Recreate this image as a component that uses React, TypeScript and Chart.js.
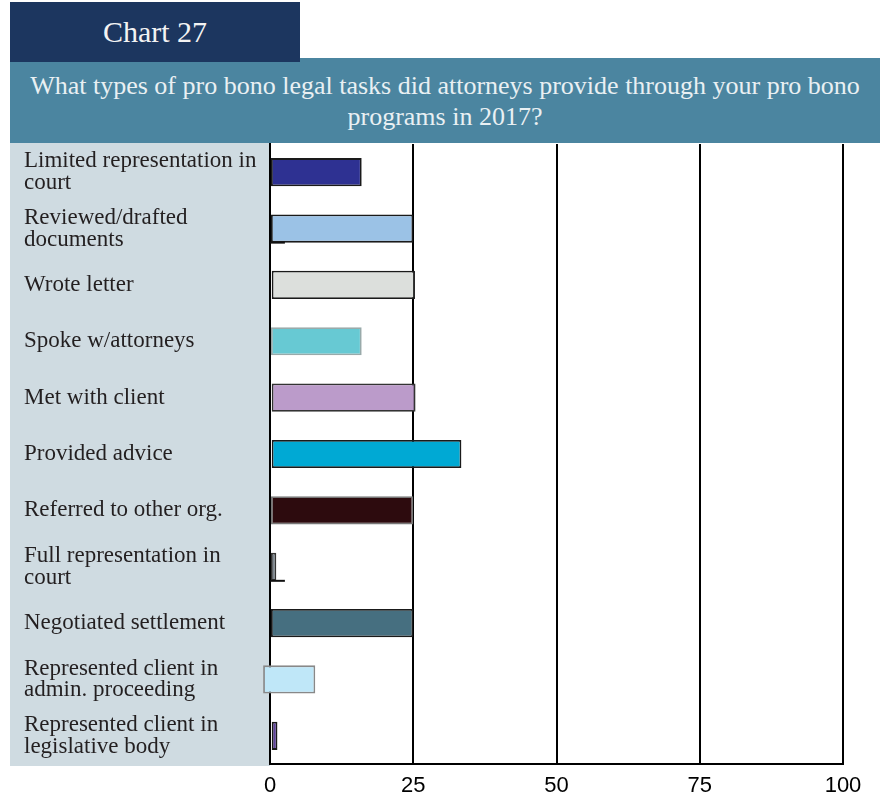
import React, { useEffect, useRef } from "react";
import { Chart, registerables } from "chart.js";

Chart.register(...registerables);

const categories: (string | string[])[] = [
  ["Limited representation in", "court"],
  ["Reviewed/drafted", "documents"],
  "Wrote letter",
  "Spoke w/attorneys",
  "Met with client",
  "Provided advice",
  "Referred to other org.",
  ["Full representation in", "court"],
  "Negotiated settlement",
  ["Represented client in", "admin. proceeding"],
  ["Represented client in", "legislative body"],
];

const values = [16, 25, 25.3, 16, 25.4, 33.4, 25, 1.1, 25, 7.9, 1.3];
const barStarts = [0, 0, 0.3, 0, 0.3, 0.3, 0, 0, 0, -1.2, 0.3];
const whiskerEnds: (number | null)[] = [null, 2.6, null, null, null, null, null, 2.6, null, null, null];
const xTickValues = [0, 25, 50, 75, 100];

const barColors = [
  "#2e3192",
  "#9bc2e6",
  "#dcdfdc",
  "#67c9d3",
  "#bb9bca",
  "#00a9d4",
  "#2d0b0e",
  "#7d8790",
  "#466f80",
  "#bfe7f8",
  "#5c3f9a",
];
const barBorders = [
  "#1a1a1a",
  "#1a1a1a",
  "#1a1a1a",
  "#9aa",
  "#333",
  "#1a1a1a",
  "#777",
  "#333",
  "#1a1a1a",
  "#888",
  "#1a1a1a",
];

const titleTag = "Chart 27";
const titleLines = [
  "What types of pro bono legal tasks did attorneys provide through your pro bono",
  "programs in 2017?",
];

export default function App() {
  const ref = useRef<HTMLCanvasElement>(null);

  useEffect(() => {
    if (!ref.current) return;

    const panelPlugin = {
      id: "panel",
      beforeDraw(chart: any) {
        const { ctx, chartArea } = chart;
        ctx.save();
        ctx.fillStyle = "#cfdbe1";
        ctx.fillRect(10, chartArea.top - 1, chartArea.left - 10, chartArea.bottom - chartArea.top + 3);
        ctx.restore();
      },
    };

    const whiskerPlugin = {
      id: "whiskers",
      afterDatasetsDraw(chart: any) {
        const { ctx } = chart;
        const meta = chart.getDatasetMeta(0);
        const xs = chart.scales.x;
        ctx.save();
        ctx.strokeStyle = "#111";
        ctx.lineWidth = 2;
        whiskerEnds.forEach((w, i) => {
          if (w == null) return;
          const el: any = meta.data[i];
          const y = el.y + el.height / 2;
          ctx.beginPath();
          ctx.moveTo(xs.getPixelForValue(0), y);
          ctx.lineTo(xs.getPixelForValue(w), y);
          ctx.stroke();
        });
        ctx.restore();
      },
    };

    const chart = new Chart(ref.current, {
      type: "bar",
      data: {
        labels: categories,
        datasets: [
          {
            data: values.map((v, i) => [barStarts[i], v]) as any,
            backgroundColor: barColors,
            borderColor: barBorders,
            borderWidth: 1.8,
            borderSkipped: false,
            barPercentage: 0.5,
            categoryPercentage: 1,
            clip: false as any,
          },
        ],
      },
      options: {
        indexAxis: "y",
        animation: false,
        responsive: false,
        maintainAspectRatio: false,
        layout: { padding: { left: 24, top: 4, right: 38, bottom: 0 } },
        plugins: {
          legend: { display: false },
          tooltip: { enabled: false },
          title: { display: false },
        },
        scales: {
          x: {
            type: "linear",
            position: "bottom",
            min: 0,
            max: 100,
            afterBuildTicks: (s: any) => {
              s.ticks = xTickValues.map((v) => ({ value: v }));
            },
            grid: { color: "#000", lineWidth: 2, drawTicks: false },
            border: { display: true, color: "#000", width: 2 },
            ticks: {
              padding: 9,
              color: "#000",
              maxRotation: 0,
              font: { family: '"Liberation Sans", Arial, sans-serif', size: 22 },
            },
            afterFit: (s: any) => {
              s.height = 32;
              s.paddingLeft = 0;
              s.paddingRight = 0;
            },
          },
          y: {
            type: "category",
            position: "left",
            grid: { display: false, drawTicks: false },
            border: { display: true, color: "#000", width: 2 },
            ticks: {
              crossAlign: "far",
              padding: 0,
              autoSkip: false,
              color: "#231f20",
              font: { family: '"Liberation Serif", "Times New Roman", serif', size: 23, lineHeight: 0.95 },
            },
            afterFit: (s: any) => {
              s.width = 246;
              s.paddingTop = 0;
              s.paddingBottom = 0;
            },
          },
        },
      },
      plugins: [panelPlugin, whiskerPlugin],
    });

    return () => chart.destroy();
  }, []);

  return (
    <div
      style={{
        position: "absolute",
        left: 0,
        top: 0,
        width: 881,
        height: 796,
        background: "#fff",
        overflow: "hidden",
      }}
    >
      <div
        style={{
          position: "absolute",
          left: 0,
          top: 140,
          width: 881,
          height: 656,
        }}
      >
        <canvas ref={ref} width={881} height={656} style={{ display: "block" }} />
      </div>
      <div
        style={{
          position: "absolute",
          left: 10,
          top: 58,
          width: 870,
          height: 85,
          background: "#4b85a0",
          color: "#e9f0f3",
          fontFamily: '"Liberation Serif", "Times New Roman", serif',
          fontSize: 26,
          lineHeight: "31px",
          textAlign: "center",
          display: "flex",
          flexDirection: "column",
          justifyContent: "center",
          zIndex: 2,
        }}
      >
        {titleLines.map((t, i) => (
          <div key={i} style={{ whiteSpace: "nowrap" }}>{t}</div>
        ))}
      </div>
      <div
        style={{
          position: "absolute",
          left: 10,
          top: 2,
          width: 290,
          height: 60,
          background: "#1c365f",
          color: "#f3f3f3",
          fontFamily: '"Liberation Serif", "Times New Roman", serif',
          fontSize: 30,
          lineHeight: "30px",
          display: "flex",
          alignItems: "center",
          justifyContent: "center",
          zIndex: 3,
        }}
      >
        {titleTag}
      </div>
    </div>
  );
}
